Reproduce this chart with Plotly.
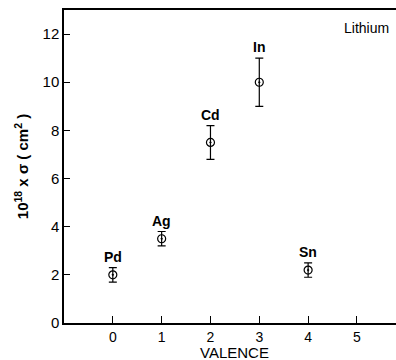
import plotly.graph_objects as go

# Cross sections for lithium on various solutes, by valence
elements = ["Pd", "Ag", "Cd", "In", "Sn"]
valence = [0, 1, 2, 3, 4]
sigma = [2.0, 3.5, 7.5, 10.0, 2.2]
sigma_err = [0.3, 0.3, 0.7, 1.0, 0.3]

x_ticks = [0, 1, 2, 3, 4, 5]
y_ticks = [0, 2, 4, 6, 8, 10, 12]

font_family = "Liberation Sans, Arial, sans-serif"

fig = go.Figure()
fig.add_trace(go.Scatter(
    x=valence, y=sigma, mode="markers",
    marker=dict(symbol="circle-open-dot", size=8, color="black",
                line=dict(width=1.2, color="black")),
    error_y=dict(type="data", array=sigma_err, visible=True,
                 color="black", thickness=1.2, width=4),
    showlegend=False, hoverinfo="skip",
))

# element labels above each error bar
for xe, ye, err, name in zip(valence, sigma, sigma_err, elements):
    fig.add_annotation(x=xe, y=ye + err, text="<b>" + name + "</b>",
                       showarrow=False, yanchor="bottom", yshift=1,
                       font=dict(size=14, color="black", family=font_family))

fig.add_annotation(x=0.985, y=0.975, xref="paper", yref="paper",
                   text="Lithium", showarrow=False,
                   xanchor="right", yanchor="top",
                   font=dict(size=14, color="black", family=font_family))

# x-axis title placed as an annotation below the tick labels
fig.add_annotation(x=0.515, y=-0.093, xref="paper", yref="paper",
                   text="VALENCE", showarrow=False,
                   xanchor="center", yanchor="middle",
                   font=dict(size=15, color="black", family=font_family))

fig.update_xaxes(
    range=[-1, 5.8], tickvals=x_ticks, ticktext=[str(v) for v in x_ticks],
    ticks="inside", ticklen=7, tickwidth=1.2, tickcolor="black",
    showline=True, linecolor="black", linewidth=1.5, mirror=True,
    showgrid=False, zeroline=False, automargin=False,
    tickfont=dict(size=14, color="black", family=font_family),
)
fig.update_yaxes(
    range=[0, 13], tickvals=y_ticks, ticktext=[str(v) for v in y_ticks],
    ticks="inside", ticklen=6, tickwidth=1.2, tickcolor="black",
    showline=True, linecolor="black", linewidth=1.5, mirror=False,
    showgrid=False, zeroline=False, automargin=False,
    title=dict(text="<b>10<sup>18</sup> x σ ( cm<sup>2</sup> )</b>", standoff=10,
               font=dict(size=15, color="black", family=font_family)),
    tickfont=dict(size=15, color="black", family=font_family),
)

fig.update_layout(
    width=396, height=360,
    margin=dict(l=64, r=0, t=10, b=37),
    paper_bgcolor="white", plot_bgcolor="white",
    font=dict(family=font_family, color="black"),
)

fig.write_html("out.html")
